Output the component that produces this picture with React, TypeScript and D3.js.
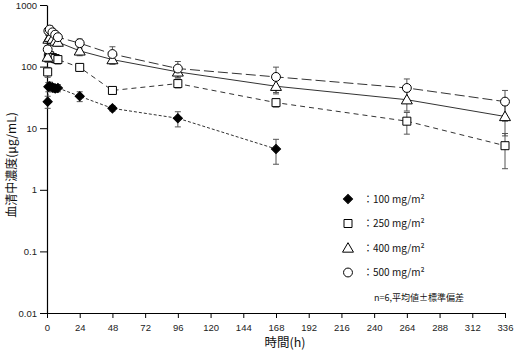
import * as d3 from "d3";
import { useEffect, useRef } from "react";

const W = 515;
const H = 353;
const margin = { top: 5, right: 8, bottom: 40, left: 47 };

const times = [0.5, 1, 2, 4, 6, 8, 24, 48, 96, 168, 264, 336];
const xTicks = [0, 24, 48, 72, 96, 120, 144, 168, 192, 216, 240, 264, 288, 312, 336];
const yTicks = [0.01, 0.1, 1, 10, 100, 1000];

const mean100 = [27, 47, 48, 46, 44, 45, 33, 21, 14.5, 4.6];
const sd100 = [6, 8, 8, 7, 6, 6, 6, 2, 4, 2];
const mean250 = [82, 140, 150, 140, 135, 130, 97, 41, 53, 26, 13, 5.2];
const sd250 = [15, 20, 25, 20, 20, 20, 12, 5, 8, 4, 5, 3];
const mean400 = [143, 280, 300, 280, 260, 250, 180, 130, 82, 48, 29, 15.5];
const sd400 = [25, 40, 45, 40, 35, 35, 30, 20, 15, 12, 10, 8];
const mean500 = [190, 380, 400, 360, 330, 300, 240, 160, 93, 68, 45, 27];
const sd500 = [30, 50, 60, 50, 45, 40, 40, 50, 28, 30, 18, 14];

const legendLabels = ["：100 mg/m²", "：250 mg/m²", "：400 mg/m²", "：500 mg/m²"];

// diamond = square turned 45 degrees
const series = [
  { mean: mean100, sd: sd100, symbol: d3.symbolSquare, rot: 45, size: 42, fill: "#000", dash: "3,2" },
  { mean: mean250, sd: sd250, symbol: d3.symbolSquare, rot: 0, size: 64, fill: "#fff", dash: "5,4" },
  { mean: mean400, sd: sd400, symbol: d3.symbolTriangle, rot: 0, size: 52, fill: "#fff", dash: null },
  { mean: mean500, sd: sd500, symbol: d3.symbolCircle, rot: 0, size: 62, fill: "#fff", dash: "10,4" },
];

function drawChart(el: SVGSVGElement) {
  const svg = d3.select(el);
  svg.selectAll("*").remove();
  const width = W - margin.left - margin.right;
  const height = H - margin.top - margin.bottom;

  const x = d3.scaleLinear().domain([0, 336]).range([0, width - 2]);
  const y = d3.scaleLog().domain([0.01, 1000]).range([height, 0]);

  const chart = svg
    .append("g")
    .attr("transform", "translate(" + margin.left + "," + margin.top + ")");

  // axes
  const xAxis = chart
    .append("g")
    .attr("transform", `translate(0,${height})`)
    .call(d3.axisBottom(x).tickValues(xTicks).tickSize(5).tickSizeOuter(0).tickFormat(d3.format("d")));
  xAxis.select(".domain").attr("stroke", "#000").attr("stroke-width", 1.2);
  xAxis.selectAll("line").attr("stroke", "#000");
  xAxis
    .selectAll("text")
    .attr("fill", "#222")
    .attr("dy", "1.1em")
    .style("font-family", "Liberation Sans, Arial, sans-serif")
    .style("font-size", "9.5px");

  const yAxis = chart
    .append("g")
    .call(
      d3
        .axisLeft(y)
        .tickValues(yTicks)
        .tickSize(7)
        .tickSizeOuter(0)
        .tickPadding(3)
        .tickFormat((d: any) => String(d))
    );
  yAxis.select(".domain").attr("stroke", "#000").attr("stroke-width", 1.2);
  yAxis.selectAll("line").attr("stroke", "#000");
  yAxis
    .selectAll("text")
    .attr("fill", "#222")
    .style("font-family", "Liberation Sans, Arial, sans-serif")
    .style("font-size", "9.5px");

  // axis labels
  svg
    .append("text")
    .attr("x", 285)
    .attr("y", 347)
    .attr("text-anchor", "middle")
    .style("font-family", "Noto Sans CJK JP, sans-serif")
    .style("font-size", "12.5px")
    .attr("fill", "#111")
    .text("時間(h)");

  svg
    .append("text")
    .attr("transform", "translate(16,165)rotate(-90)")
    .attr("text-anchor", "middle")
    .style("font-family", "Noto Sans CJK JP, sans-serif")
    .style("font-size", "12px")
    .attr("fill", "#111")
    .text("血清中濃度(μg/mL)");

  const line = d3
    .line<number>()
    .x((_, i) => x(times[i]))
    .y((d) => y(d));

  // lines
  series.forEach((s) => {
    chart
      .append("path")
      .datum(s.mean)
      .attr("d", line)
      .attr("fill", "none")
      .attr("stroke", "#333")
      .attr("stroke-width", 1)
      .attr("stroke-dasharray", s.dash);
  });

  // error bars
  series.forEach((s) => {
    const g = chart.append("g").attr("stroke", "#555").attr("stroke-width", 1);
    s.mean.forEach((m, i) => {
      const cx = x(times[i]);
      const hi = y(m + s.sd[i]);
      const lo = y(Math.max(m - s.sd[i], 0.02));
      g.append("line").attr("x1", cx).attr("x2", cx).attr("y1", hi).attr("y2", lo);
      g.append("line").attr("x1", cx - 3).attr("x2", cx + 3).attr("y1", hi).attr("y2", hi);
      g.append("line").attr("x1", cx - 3).attr("x2", cx + 3).attr("y1", lo).attr("y2", lo);
    });
  });

  // markers
  series.forEach((s, k) => {
    const sym = d3.symbol().type(s.symbol).size(s.size);
    chart
      .append("g")
      .selectAll("path")
      .data(s.mean)
      .enter()
      .append("path")
      .attr("d", sym as any)
      .attr(
        "transform",
        (d, i) => `translate(${x(times[i])},${y(d) + (k === 2 ? 1 : 0)})rotate(${s.rot})`
      )
      .attr("fill", s.fill)
      .attr("stroke", "#000")
      .attr("stroke-width", 1);
  });

  // legend
  const legend = svg.append("g");
  series.forEach((s, k) => {
    const ly = 199 + k * 24.5;
    legend
      .append("path")
      .attr("d", d3.symbol().type(s.symbol).size(s.size)() as string)
      .attr("transform", `translate(348,${ly + (k === 2 ? 1 : 0)})rotate(${s.rot})`)
      .attr("fill", s.fill)
      .attr("stroke", "#000");
    legend
      .append("text")
      .attr("x", 363)
      .attr("y", ly + 3.5)
      .style("font-family", "Noto Sans CJK JP, sans-serif")
      .style("font-size", "10px")
      .attr("fill", "#111")
      .text(legendLabels[k]);
  });
  legend
    .append("text")
    .attr("x", 374)
    .attr("y", 301)
    .style("font-family", "Noto Sans CJK JP, sans-serif")
    .style("font-size", "9px")
    .attr("fill", "#111")
    .text("n=6,平均値±標準偏差");
}

export default function App() {
  const ref = useRef<SVGSVGElement>(null);
  useEffect(() => {
    if (ref.current) drawChart(ref.current);
  }, []);
  return (
    <svg
      ref={ref}
      width={W}
      height={H}
      style={{ position: "absolute", left: 0, top: 0, background: "#fff" }}
    ></svg>
  );
}
